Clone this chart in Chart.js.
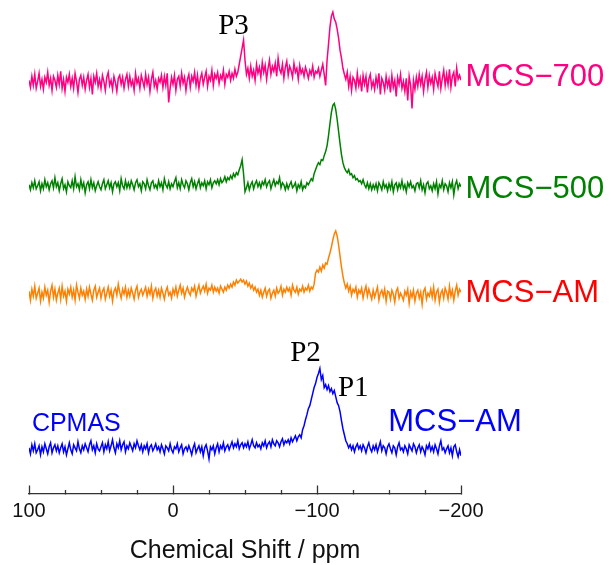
<!DOCTYPE html>
<html>
<head>
<meta charset="utf-8">
<title>29Si NMR spectra</title>
<script src="https://cdn.jsdelivr.net/npm/chart.js@4.4.1/dist/chart.umd.min.js"></script>
<style>
  html, body { margin: 0; padding: 0; background: #ffffff; }
  #wrap { width: 611px; height: 565px; position: relative; }
</style>
</head>
<body>
<div id="wrap"><canvas id="nmr" width="611" height="565"></canvas></div>
<script>
// Chemical shift grid: 100 ppm down to -200 ppm, one sample per ppm
const ppmStart = 100;
const ppmEnd = -200;
const ppm = [];
for (let v = ppmStart; v >= ppmEnd; v--) ppm.push(v);

// Axis tick labels (ppm)
const tickValues = [100, 0, -100, -200];

// Spectrum intensities (arbitrary units, baseline = 0), one value per ppm from 100 to -200
const mcs700 = [
  2, -5, 6, -3, 8, -6, 1, 9, -4, 3,
  -7, 5, 0, 10, -3, 4, -8, 6, 2, -5,
  7, -2, 11, -6, 3, -9, 5, 0, 8, -4,
  4, -6, 9, 1, -10, 3, 7, -3, 5, -7,
  2, 8, -5, 4, -12, 6, 0, 9, -4, 3,
  -6, 7, 1, -8, 5, 10, -3, 2, -7, 6,
  0, -9, 4, 7, -2, 5, -6, 3, 8, -4,
  6, -3, 2, -8, 9, -1, 4, -6, 7, 1,
  -5, 8, -2, 5, -9, 3, 10, -4, 2, -7,
  4, 0, 7, -5, 6, -3, 9, -20, -6, 5,
  -2, 7, -8, 3, 6, -4, 9, -1, 5, -8,
  3, 8, -5, 6, 1, 10, -3, 7, -6, 4,
  9, -2, 5, 11, -4, 6, 2, 12, -3, 8,
  4, 10, -1, 7, 3, 12, -2, 8, 5, 11,
  2, 9, 4, 13, 6, 10, 18, 26, 34, 42,
  22, 8, 14, 4, 16, 6, 12, 2, 18, 9,
  15, 5, 20, 10, 17, 3, 14, 22, 8, 16,
  11, 19, 6, 24, 13, 9, 18, 4, 15, 21,
  7, 16, 12, 5, 19, 10, 14, 3, 17, 9,
  13, 6, 15, 10, 4, 12, 8, 16, 5, 11,
  9, 14, 6, 12, 18, 8, -3, 22, 38, 55,
  66, 70, 63, 60, 53, 44, 32, 24, 14, 8,
  3, 10, -4, 6, -8, 5, 2, -6, 9, -3,
  4, -9, 7, -2, 6, -10, 3, 8, -5, 1,
  -7, 5, -3, 9, -12, 4, 0, -8, 6, -4,
  3, -10, 7, -5, 2, -14, 5, -2, 8, -6,
  1, -9, 4, -18, 6, -3, -26, 2, -7, 5,
  -4, 8, -2, 6, -9, 3, 10, -5, 7, -1,
  5, -7, 9, 2, -4, 11, -6, 4, 12, -3,
  8, -2, 13, -5, 6, 10, -4, 14, 3, 7,
  2
];

const mcs500 = [
  1, -4, 3, -2, 5, -3, 0, 4, -5, 2,
  -3, 6, -1, 3, -4, 2, 5, -2, 8, -1,
  3, -5, 2, 7, -3, 1, -6, 4, 0, -2,
  5, -3, 9, -1, 2, -4, 6, -2, 3, -7,
  1, 4, -3, 6, -2, 3, -5, 0, 4, -1,
  -4, 2, 6, -3, 1, 5, -2, 3, -6, 2,
  4, -1, 3, -5, 7, 0, -3, 5, -2, 3,
  -2, 5, 1, -4, 3, 6, -1, 2, -5, 4,
  2, -3, 6, 0, -4, 3, 5, -2, 1, -3,
  5, -1, 3, -4, 7, 1, -2, 4, -3, 2,
  -1, 4, 8, -2, 3, -3, 6, 1, -2, 5,
  2, -4, 3, 7, -1, 4, -3, 2, 6, -2,
  3, 0, 5, -3, 4, 1, 6, -2, 3, 5,
  2, 6, 1, 7, 3, 5, 9, 4, 8, 6,
  10, 7, 12, 9, 13, 11, 16, 20, 26, 12,
  -6, -2, 3, -4, 1, 4, -3, 2, 5, -1,
  3, -2, 4, 1, 6, -1, 3, 5, -3, 2,
  6, 0, 4, 2, 8, -2, 3, 1, -4, 2,
  -3, 1, 4, -2, 0, 3, -5, 1, -2, 4,
  -4, 0, -2, 3, 1, 4, 7, 5, 12, 16,
  20, 23, 21, 26, 25, 30, 34, 40, 50, 62,
  73, 80, 82, 76, 66, 54, 42, 31, 23, 18,
  15, 13, 16, 11, 12, 8, 10, 6, 7, 4,
  5, 2, 6, 1, -2, 3, -3, 2, -4, 1,
  -3, 2, -5, 3, 0, -4, 4, -2, 1, -5,
  2, -3, 4, -6, 1, 3, -4, 2, -2, 5,
  -3, 1, -6, 3, -1, 4, -2, 0, -5, 2,
  3, -2, 5, -4, 1, -7, 2, 4, -3, 0,
  -5, 2, -3, 4, -8, 1, -2, 5, -4, 2,
  0, -6, 3, -2, 4, -9, 1, 5, -3, 2,
  -1
];

const mcsAM = [
  3, -6, 5, -2, 8, -4, 1, 6, -7, 2,
  -4, 7, -1, 4, -8, 3, 9, -3, 5, -6,
  1, 6, -5, 8, -2, 3, -7, 5, 0, 7,
  -3, 4, -6, 9, 2, -4, 6, -1, 3, -5,
  5, -2, 7, 0, -6, 4, 8, -3, 2, 6,
  -4, 3, 6, -5, 1, 7, -2, 4, -7, 3,
  6, -1, 10, 2, -4, 5, 0, 7, -3, 4,
  -2, 6, 1, -5, 4, 8, -3, 2, 5, -1,
  3, 7, -2, 5, 0, 8, -4, 3, 6, -2,
  4, -3, 6, 1, -5, 3, 7, -1, 2, -4,
  5, 0, 7, -2, 4, 9, 1, 6, -3, 3,
  7, 2, -1, 6, 3, 8, -2, 4, 9, 1,
  5, 8, 3, 10, 1, 6, 4, 9, 2, 7,
  3, 6, 1, 8, 5, 2, 7, 4, 9, 6,
  10, 7, 12, 9, 14, 11, 13, 15, 12, 14,
  10, 13, 8, 11, 6, 9, 4, 7, 2, 5,
  -1, 4, -3, 2, 6, -2, 3, 5, -4, 1,
  4, -2, 6, 1, 3, 8, -1, 5, 2, 7,
  3, 6, -1, 9, 4, 2, 7, 0, 5, 3,
  8, 2, 6, 4, 9, 3, 7, 5, 10, 21,
  24, 22, 27, 23, 29, 26, 31, 30, 36, 41,
  47, 54, 60, 63, 58, 49, 38, 27, 18, 11,
  6, 10, 3, 8, -1, 5, 2, 7, -3, 4,
  1, 6, -4, 3, 8, -2, 5, 0, -5, 4,
  -3, 2, 7, -6, 1, 4, -2, 5, -7, 3,
  2, -5, 4, 0, -8, 3, 6, -4, 1, -2,
  -6, 3, -1, 5, -9, 2, -3, 4, -7, 1,
  4, -4, 2, -10, 3, 6, -5, 1, -2, 5,
  -3, 7, -6, 2, 5, -8, 1, 4, -4, 6,
  2, -5, 8, -2, 4, -6, 3, 9, -1, 5,
  2
];

const cpmasAM = [
  2, -4, 5, -1, 6, -3, 0, 4, -5, 3,
  -2, 6, 1, -4, 3, 7, -3, 2, 5, -1,
  4, -3, 2, 6, -2, 3, -5, 1, 7, 0,
  -4, 5, 2, -1, 8, 1, -3, 4, 0, 6,
  2, -2, 5, 9, 0, 4, -3, 6, 1, -1,
  3, 7, -2, 5, 1, 8, -1, 4, 10, 2,
  -3, 6, 2, 9, 0, 5, 8, -2, 4, 1,
  7, 3, -1, 6, 2, 9, 4, 0, 5, -2,
  4, 1, 6, -3, 3, 5, -1, 2, 6, 0,
  3, -2, 5, 1, -4, 4, 2, -1, 6, 0,
  -3, 3, 1, 6, -2, 2, 5, -4, 1, 3,
  -1, 4, 0, -5, 2, 6, -3, 1, 4, -2,
  3, -6, 2, 5, -1, -9, 3, 0, 4, -4,
  2, 6, -2, 4, 1, 7, -1, 3, 5, 0,
  4, 8, 2, 6, 3, 9, 1, 5, 7, 2,
  6, 3, 8, 1, 5, 10, 4, 2, 7, 3,
  5, 1, 7, 4, 9, 2, 6, 8, 3, 10,
  6, 4, 9, 7, 3, 8, 11, 5, 9, 7,
  10, 6, 12, 8, 11, 14, 9, 13, 15, 12,
  20, 24, 30, 35, 41, 44, 50, 56, 62, 66,
  72, 76, 81, 70, 74, 62, 65, 60, 64, 58,
  61, 56, 59, 53, 47, 44, 38, 29, 21, 15,
  9, 6, 2, 5, 0, 4, -2, 3, 6, 1,
  4, -1, 5, 2, -3, 3, 7, 1, -2, 4,
  0, 5, -2, 3, 8, -1, 4, 2, -4, 3,
  6, 1, -3, 4, 2, -5, 3, 7, 0, 2,
  -2, 4, 1, -4, 5, 2, -1, 6, 3, -3,
  2, 5, -2, 3, 0, -5, 4, 1, 6, -1,
  3, -2, 5, 1, -4, 4, 9, 0, 2, -3,
  1, 4, -3, 2, -6, 3, 5, -2, -7, 0,
  -6
];

// Vertical stacking of the four spectra (added to each trace when plotting)
const stackOffset = { mcs700: 410, mcs500: 307, mcsAM: 199, cpmasAM: 44 };

function stacked(values, offset) {
  return values.map((v, i) => ({ x: ppm[i], y: v + offset }));
}

function lineSet(label, values, offset, color) {
  return {
    label,
    data: stacked(values, offset),
    borderColor: color,
    borderWidth: 1.5,
    pointRadius: 0,
    tension: 0,
    fill: false
  };
}

const minusSign = v => (v < 0 ? '\u2212' + Math.abs(v) : String(v));

// Text annotations and the inward tick marks of the shift axis
const decorations = {
  id: 'decorations',
  afterDatasetsDraw(chart) {
    const { ctx, chartArea, scales } = chart;
    const xs = scales.x, ys = scales.y;
    ctx.save();

    // tick marks pointing up from the axis line, major every 100 ppm, minor every 25 ppm
    ctx.strokeStyle = '#333333';
    ctx.lineWidth = 1.3;
    const yAxis = Math.round(chartArea.bottom) + 0.5;
    for (let v = ppmStart; v >= ppmEnd; v -= 25) {
      const major = v % 100 === 0;
      const x = Math.round(xs.getPixelForValue(v)) + 0.5;
      ctx.beginPath();
      ctx.moveTo(x, yAxis);
      ctx.lineTo(x, yAxis - (major ? 9 : 4.5));
      ctx.stroke();
    }

    const serif = '29px "Liberation Serif", "DejaVu Serif", serif';
    const sans = px => px + 'px "Liberation Sans", Arial, sans-serif';
    const labels = [
      { text: 'P3', x: xs.getPixelForValue(-42), y: ys.getPixelForValue(458), align: 'center', font: serif, color: '#000000' },
      { text: 'P2', x: xs.getPixelForValue(-92), y: ys.getPixelForValue(132), align: 'center', font: serif, color: '#000000' },
      { text: 'P1', x: xs.getPixelForValue(-114.5), y: ys.getPixelForValue(98), align: 'left', font: serif, color: '#000000' },
      { text: 'CPMAS', x: xs.getPixelForValue(98), y: ys.getPixelForValue(63), align: 'left', font: sans(25), color: '#0000ff' },
      { text: 'MCS\u2212AM', x: xs.getPixelForValue(-149.5), y: ys.getPixelForValue(63), align: 'left', font: sans(31), color: '#0000ff' },
      { text: 'MCS\u2212700', x: chartArea.right + 4.5, y: ys.getPixelForValue(406), align: 'left', font: sans(31), color: '#ff0080' },
      { text: 'MCS\u2212500', x: chartArea.right + 4.5, y: ys.getPixelForValue(295), align: 'left', font: sans(31), color: '#008000' },
      { text: 'MCS\u2212AM', x: chartArea.right + 4.5, y: ys.getPixelForValue(191), align: 'left', font: sans(31), color: '#ff0000' }
    ];
    ctx.textBaseline = 'alphabetic';
    for (const l of labels) {
      ctx.font = l.font;
      ctx.fillStyle = l.color;
      ctx.textAlign = l.align;
      ctx.fillText(l.text, l.x, l.y);
    }
    ctx.restore();
  }
};

new Chart(document.getElementById('nmr'), {
  type: 'line',
  data: {
    datasets: [
      lineSet('MCS-700', mcs700, stackOffset.mcs700, '#ff0080'),
      lineSet('MCS-500', mcs500, stackOffset.mcs500, '#008000'),
      lineSet('MCS-AM', mcsAM, stackOffset.mcsAM, '#ff8000'),
      lineSet('CPMAS MCS-AM', cpmasAM, stackOffset.cpmasAM, '#0000ff')
    ]
  },
  options: {
    responsive: false,
    animation: false,
    events: [],
    layout: { padding: { left: 29, right: 150, top: 2, bottom: 0 } },
    plugins: { legend: { display: false }, tooltip: { enabled: false } },
    scales: {
      x: {
        type: 'linear',
        reverse: true,
        min: ppmEnd,
        max: ppmStart,
        afterBuildTicks: scale => { scale.ticks = tickValues.map(v => ({ value: v })); },
        ticks: {
          callback: minusSign,
          color: '#111111',
          font: { family: '"Liberation Sans", Arial, sans-serif', size: 20 },
          padding: 5,
          maxRotation: 0
        },
        grid: { display: true, drawOnChartArea: false, drawTicks: false },
        border: { display: true, color: '#333333', width: 1.3 },
        title: {
          display: true,
          text: 'Chemical Shift / ppm',
          color: '#111111',
          font: { family: '"Liberation Sans", Arial, sans-serif', size: 25, lineHeight: 1.1 },
          padding: { top: 9.5, bottom: 0 }
        }
      },
      y: {
        display: false,
        min: 0,
        max: 490
      }
    }
  },
  plugins: [decorations]
});
</script>
</body>
</html>
